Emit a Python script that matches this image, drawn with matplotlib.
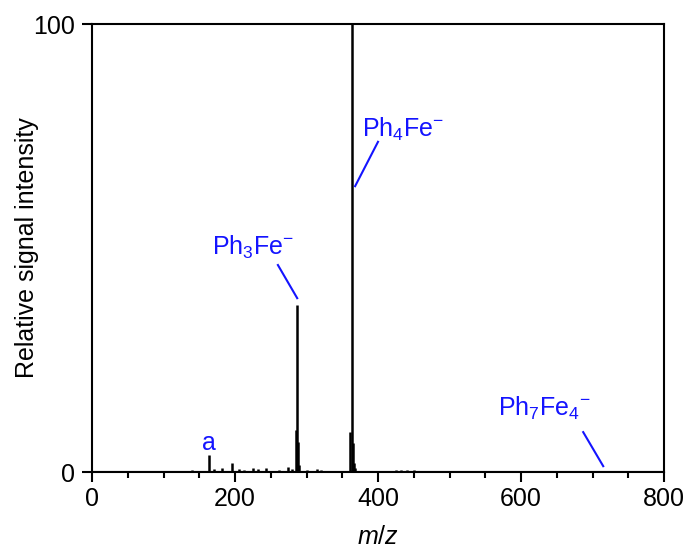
import matplotlib
matplotlib.use("Agg")
import matplotlib.pyplot as plt
from matplotlib.ticker import MultipleLocator

plt.rcParams["font.family"] = ["Liberation Sans", "DejaVu Sans"]
plt.rcParams["mathtext.fontset"] = "custom"
plt.rcParams["mathtext.rm"] = "Liberation Sans"
plt.rcParams["mathtext.it"] = "Liberation Sans:italic"

# stick spectrum: m/z and relative intensity
mz = [120, 140, 164, 170, 182, 196, 205, 212, 225, 232, 244, 262, 274, 280,
      285, 287, 288, 290, 300, 315, 320, 361, 364, 365, 366, 368, 380, 410,
      425, 432, 440, 450, 460, 480, 500, 520, 560, 600, 640, 660, 680, 700,
      716, 740, 763]
intensity = [0.3, 0.4, 3.7, 0.6, 1.0, 2.0, 0.6, 0.5, 0.8, 0.6, 1.0, 0.4, 1.1, 0.6,
             9.4, 37.3, 6.8, 1.5, 0.5, 0.6, 0.4, 9.0, 100, 6.5, 2.0, 0.8, 0.3, 0.3,
             0.5, 0.4, 0.5, 0.4, 0.3, 0.3, 0.3, 0.2, 0.2, 0.2, 0.3, 0.3, 0.3, 0.3,
             0.3, 0.2, 0.3]

blue = "#1414ff"

fig = plt.figure(figsize=(6.88, 5.51), dpi=100)
ax = fig.add_axes([92 / 688, 1 - 472 / 551, 572 / 688, 448 / 551])

ax.vlines(mz, 0, intensity, color="black", linewidth=1.8)
ax.axhline(0, color="black", linewidth=1.5)

ax.set_xlim(0, 800)
ax.set_ylim(0, 100)
ax.set_xticks([0, 200, 400, 600, 800])
ax.xaxis.set_minor_locator(MultipleLocator(50))
ax.set_yticks([0, 100])
ax.tick_params(axis="both", which="major", direction="out", length=7, width=1.5,
               labelsize=18, pad=4)
ax.tick_params(axis="y", which="major", pad=5)
ax.tick_params(axis="x", which="minor", direction="out", length=4, width=1.5)
for s in ax.spines.values():
    s.set_linewidth(1.5)

ax.set_xlabel("$\\it{m}$/$\\it{z}$", fontsize=18)
ax.xaxis.set_label_coords(0.5, -0.118)
ax.set_ylabel("Relative signal intensity", fontsize=18)
ax.yaxis.set_label_coords(-0.093, 0.5)

# peak labels with leader lines
ax.text(378, 74.8, "Ph$_4$Fe$^{-}$", color=blue, fontsize=18, ha="left", va="baseline")
ax.plot([368, 400], [63.8, 73.7], color=blue, linewidth=1.5)

ax.text(168, 48.4, "Ph$_3$Fe$^{-}$", color=blue, fontsize=18, ha="left", va="baseline")
ax.plot([260, 287], [46.2, 38.8], color=blue, linewidth=1.5)

ax.text(164, 4.9, "a", color=blue, fontsize=18, ha="center", va="baseline")

ax.text(568, 12.5, "Ph$_7$Fe$_4$$^{-}$", color=blue, fontsize=18, ha="left", va="baseline")
ax.plot([687, 715], [8.9, 1.3], color=blue, linewidth=1.5)

fig.savefig("out.png", dpi=100)
